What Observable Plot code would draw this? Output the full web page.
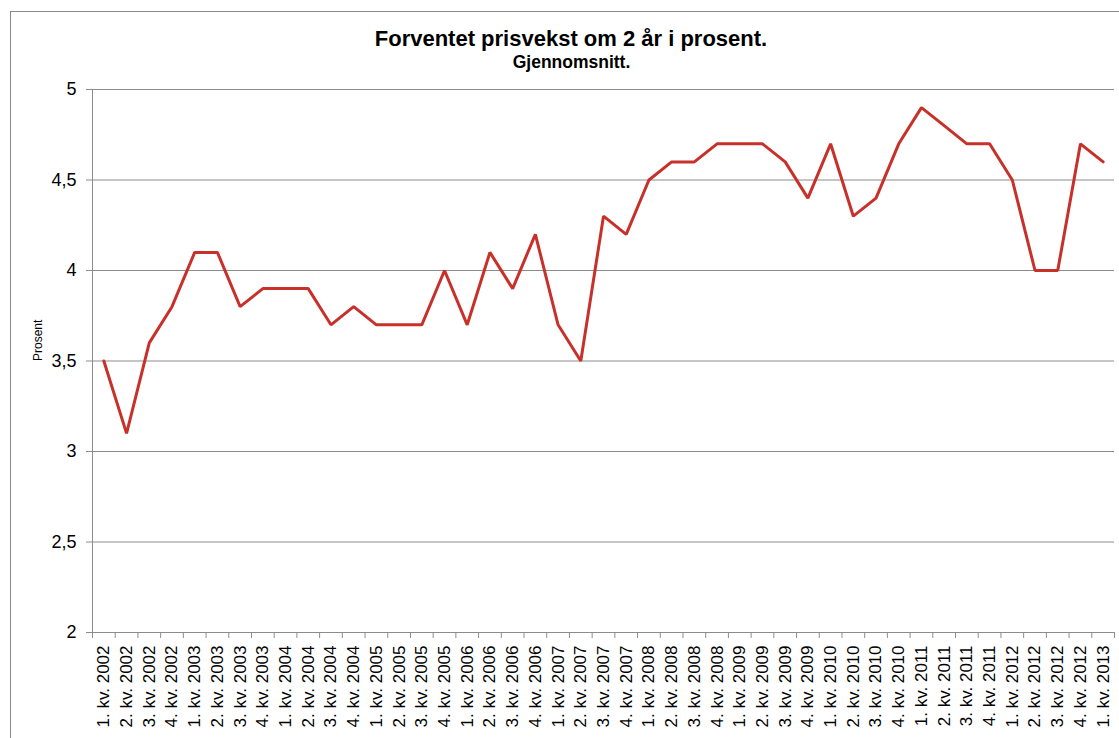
<!DOCTYPE html>
<html><head><meta charset="utf-8">
<script src="https://cdn.jsdelivr.net/npm/d3@7"></script>
<script src="https://cdn.jsdelivr.net/npm/@observablehq/plot@0.6"></script>
<style>
body{margin:0;background:#fff;font-family:"Liberation Sans",Arial,sans-serif;}
#wrap{position:relative;width:1119px;height:738px;overflow:hidden;}
#frame{position:absolute;left:10px;top:11px;width:1200px;height:800px;border:1px solid #8a8a8a;}
#title{position:absolute;left:0;top:29px;width:1142px;text-align:center;font-weight:bold;font-size:22px;line-height:20px;color:#000;}
#subtitle{position:absolute;left:0;top:54px;width:1143px;text-align:center;font-weight:bold;font-size:17.5px;line-height:16px;color:#000;}
#chart{position:absolute;left:0;top:72px;}
</style></head>
<body>
<div id="wrap">
<div id="frame"></div>
<div id="title">Forventet prisvekst om 2 år i prosent.</div>
<div id="subtitle">Gjennomsnitt.</div>
<div id="chart"></div>
</div>
<script>
const quarters = [
"1. kv. 2002","2. kv. 2002","3. kv. 2002","4. kv. 2002",
"1. kv. 2003","2. kv. 2003","3. kv. 2003","4. kv. 2003",
"1. kv. 2004","2. kv. 2004","3. kv. 2004","4. kv. 2004",
"1. kv. 2005","2. kv. 2005","3. kv. 2005","4. kv. 2005",
"1. kv. 2006","2. kv. 2006","3. kv. 2006","4. kv. 2006",
"1. kv. 2007","2. kv. 2007","3. kv. 2007","4. kv. 2007",
"1. kv. 2008","2. kv. 2008","3. kv. 2008","4. kv. 2008",
"1. kv. 2009","2. kv. 2009","3. kv. 2009","4. kv. 2009",
"1. kv. 2010","2. kv. 2010","3. kv. 2010","4. kv. 2010",
"1. kv. 2011","2. kv. 2011","3. kv. 2011","4. kv. 2011",
"1. kv. 2012","2. kv. 2012","3. kv. 2012","4. kv. 2012",
"1. kv. 2013"];
const values = [
3.5,3.1,3.6,3.8,
4.1,4.1,3.8,3.9,
3.9,3.9,3.7,3.8,
3.7,3.7,3.7,4.0,
3.7,4.1,3.9,4.2,
3.7,3.5,4.3,4.2,
4.5,4.6,4.6,4.7,
4.7,4.7,4.6,4.4,
4.7,4.3,4.4,4.7,
4.9,4.8,4.7,4.7,
4.5,4.0,4.0,4.7,
4.6];
const yTicks = [2,2.5,3,3.5,4,4.5,5];
const yLabel = "Prosent";

const idx = quarters.map((q,i)=>i);
const bounds = [...idx.map(i=>i-0.5), quarters.length-0.5];
const data = values.map((v,i)=>({i, q: quarters[i], v}));
const gray = "#8c8c8c";
const fmt = d => String(d).replace(".", ",");

const chart = Plot.plot({
  width: 1119, height: 666,
  marginLeft: 92, marginRight: 5, marginTop: 17, marginBottom: 106,
  style: {fontFamily: '"Liberation Sans", Arial, sans-serif', color: "#000", background: "transparent"},
  x: {type: "linear", domain: [-0.5, quarters.length-0.5], axis: null},
  y: {domain: [2,5], axis: null},
  marks: [
    Plot.ruleY(yTicks.filter(d=>d>2), {stroke: gray, strokeWidth: 1, strokeOpacity: 1}),
    Plot.ruleY([2], {stroke: gray, strokeOpacity: 1}),
    Plot.ruleX([-0.5], {stroke: gray, strokeOpacity: 1}),
    Plot.axisY({ticks: yTicks, tickSize: 6, tickPadding: 10, tickFormat: fmt, fontSize: 18, stroke: gray, strokeOpacity: 1, label: null}),
    Plot.axisX({ticks: bounds, tickSize: 6, tickFormat: () => "", stroke: gray, strokeOpacity: 1, label: null}),
    Plot.axisX({ticks: idx, tickSize: 0, tickPadding: 13, tickRotate: -90, tickFormat: i => quarters[i], fontSize: 17, label: null}),
    Plot.lineY(data, {x: "i", y: "v", stroke: "#c8302a", strokeWidth: 3, strokeLinejoin: "miter"}),
    Plot.text([yLabel], {frameAnchor: "left", rotate: -90, dx: -54, fontSize: 12, fill: "#000"})
  ]
});
document.getElementById("chart").appendChild(chart);
</script>
</body></html>
